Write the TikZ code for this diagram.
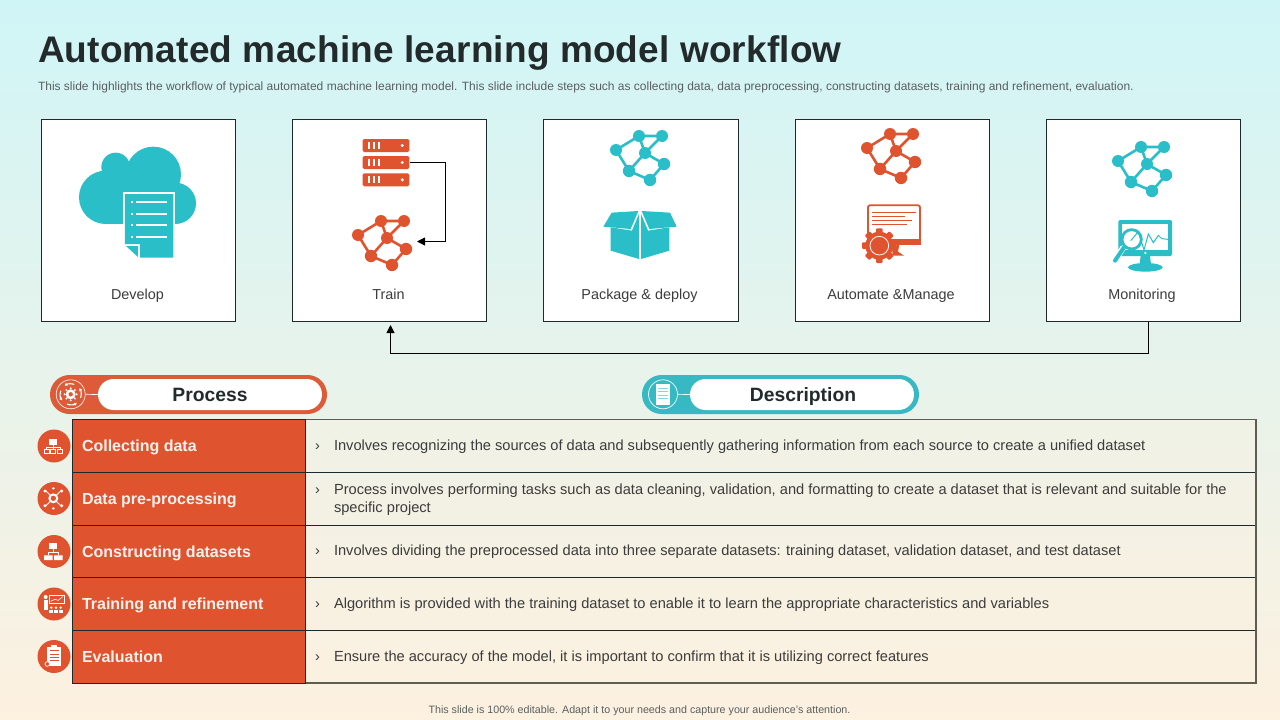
\documentclass[tikz,border=0pt]{standalone}
\usepackage{fontspec}
\setmainfont{Liberation Sans}
\usetikzlibrary{arrows.meta}
\definecolor{org}{HTML}{E0532F}
\definecolor{teal}{HTML}{29BEC8}
\definecolor{inkc}{HTML}{222A2C}
\definecolor{bodyc}{HTML}{3C3C3C}
\definecolor{subc}{HTML}{5A5F60}
\definecolor{linec}{HTML}{1E2A2A}
\definecolor{framec}{HTML}{5E5E50}
\definecolor{topbg}{HTML}{D0F5F7}
\definecolor{botbg}{HTML}{FDF1E0}
\definecolor{pillorg}{HTML}{DD5B38}
\definecolor{pillteal}{HTML}{36B9C3}
\tikzset{
  every node/.style={outer sep=0pt},
  card/.style={draw=linec,line width=0.9pt,fill=white,minimum width=193.5pt,minimum height=202pt,inner sep=0pt,anchor=north west},
  cardlabel/.style={font=\fontsize{14.4}{14.4}\selectfont,text=bodyc,inner sep=0pt,anchor=base},
  link/.style={draw=black,line width=1pt,-{Triangle[length=8pt,width=8pt]}},
  cellhead/.style={draw=linec,line width=0.9pt,fill=org,minimum width=233pt,inner sep=0pt,anchor=north west},
  cellbody/.style={draw=linec,line width=0.9pt,fill=botbg,fill opacity=0.3,minimum width=951pt,inner sep=0pt,anchor=north west},
  headtext/.style={font=\fontsize{16}{16}\selectfont\bfseries,text=white!92!org,inner sep=0pt,anchor=base west},
  desctext/.style={font=\fontsize{14.64}{18}\selectfont,text=bodyc,inner sep=0pt,anchor=base west,align=left},
  chev/.style={font=\fontsize{14.5}{18}\selectfont,text=bodyc,inner sep=0pt,anchor=base west},
  pilltext/.style={font=\fontsize{19.3}{20}\selectfont\bfseries,text=inkc,inner sep=0pt,anchor=base},
  zoomed/.style args={#1/#2}{shift={(#1,#2)},x=0.33333pt,y=-0.33333pt},
}
% network glyph, centred on its hub
\newcommand{\netglyph}[3]{%
  \begin{scope}[shift={(#1,#2)}]
    \draw[line width=2.6pt,#3] (-29,-3)--(-6,-17)--(17,-17)--(0,0)--(19,11)--(5,27)--(-16,18)--cycle;
    \draw[line width=2.6pt,#3] (-6,-17)--(0,0)--(-16,18);
    \fill[#3] (-29,-3) circle (6) (-6,-17) circle (6) (17,-17) circle (6) (0,0) circle (6)
      (19,11) circle (6.2) (-16,18) circle (6.2) (5,27) circle (6.2);
  \end{scope}}
\begin{document}
\begin{tikzpicture}[x=1pt,y=-1pt,line cap=butt]
\useasboundingbox (0,0) rectangle (1280,720);
\shade[top color=topbg,bottom color=botbg,middle color=topbg!50!botbg] (0,0) rectangle (1280,720);

% title
\node[font=\fontsize{37}{37}\selectfont\bfseries\addfontfeature{LetterSpace=0.45},text=inkc,inner sep=0pt,anchor=base west] (title) at (38,62.5) {Automated machine learning model workflow};
\node[font=\fontsize{12}{12}\selectfont,text=subc,inner sep=0pt,anchor=base west] (subtitle) at (38,90.5) {This slide highlights the workflow of typical automated machine learning model. This slide include steps such as collecting data, data preprocessing, constructing datasets, training and refinement, evaluation.};

% cards
\node[card] (c1) at (41.5,119.5) {};
\node[card] (c2) at (292.5,119.5) {};
\node[card,minimum width=194.5pt] (c3) at (543.5,119.5) {};
\node[card] (c4) at (795.5,119.5) {};
\node[card] (c5) at (1046.5,119.5) {};
\node[cardlabel] (l1) at (137.5,299) {Develop};
\node[cardlabel] (l2) at (388.5,299) {Train};
\node[cardlabel] (l3) at (639.5,299) {Package \& deploy};
\node[cardlabel] (l4) at (891,299) {Automate \&Manage};
\node[cardlabel] (l5) at (1142,299) {Monitoring};

% cloud + document
\begin{scope}[zoomed=30/110]
  \fill[teal] (227,262) circle (80) (257,171) circle (43) (370,193) circle (83) (436,280) circle (62);
  \fill[teal] (227,200) rectangle (436,342);
  \fill[white] (279,246) -- (436,246) -- (436,342) -- (279,342) -- cycle;
  \fill[white] (279,342) rectangle (285,402);
  \fill[white] (279,398) -- (300,398) -- (335,436) -- (335,446) -- (325,446) -- cycle;
  \fill[teal] (285,252) -- (430,252) -- (430,443) -- (330,443) -- (330,402) -- (285,402) -- cycle;
  \fill[teal] (288,408) -- (324,408) -- (324,441) -- cycle;
  \foreach \yy in {276,311,346,381}{
    \fill[white] (318,\yy-3) rectangle (411,\yy+3);
    \fill[white] (302,\yy-3) rectangle (308,\yy+3);
  }
\end{scope}

% server stack
\begin{scope}[zoomed=30/110]
  \foreach \yy in {87,138,190}{
    \fill[org,rounded corners=1.5pt] (998,\yy) rectangle (1138,\yy+39);
    \foreach \xx in {1015,1029,1043}{\fill[white] (\xx,\yy+9) rectangle (\xx+6,\yy+29);}
    \fill[white] (1117,\yy+19.5) circle (5);
  }
\end{scope}
\coordinate (srv) at (409.5,162);
\coordinate (trainnet) at (417,241.5);
\netglyph{387}{238}{org}
\draw[link] (srv) -| (445.5,241.5) -- (trainnet);

% package
\netglyph{645}{153}{teal}
\begin{scope}[zoomed=540/110]
  \fill[teal] (190,350) -- (215,308) -- (295,303) -- (272,357) -- cycle;
  \fill[teal] (305,303) -- (390,308) -- (410,350) -- (328,357) -- cycle;
  \fill[teal] (212,352) -- (276,362) -- (297,312) -- (297,447) -- (212,422) -- cycle;
  \fill[teal] (303,312) -- (324,362) -- (388,352) -- (388,422) -- (303,447) -- cycle;
\end{scope}

% automate
\netglyph{896}{151}{org}
\begin{scope}[zoomed=540/110]
  \draw[org,line width=1.8pt,fill=white,rounded corners=2pt] (984,286) rectangle (1140,402);
  \fill[org] (1000,388) rectangle (1143,404);
  \foreach \yy/\xe in {307/1128,320/1095,332/1115,344/1100}{\fill[org] (997,\yy-1.5) rectangle (\xe,\yy+1.5);}
  \fill[org] (1056,412) -- (1078,403) -- (1074,425) -- (1092,437) -- (1058,437) -- cycle;
  \fill[org] (1018,407) circle (42);
  \foreach \aa in {0,45,...,315}{\fill[org,rounded corners=1pt,rotate around={\aa:(1018,407)}] (1008,355) rectangle (1028,375);}
  \draw[white,line width=0.8pt] (1018,407) circle (28);
\end{scope}

% monitoring
\netglyph{1147}{164}{teal}
\begin{scope}[zoomed=1040/110]
  \fill[teal,rounded corners=1.5pt] (235,330) rectangle (396,438);
  \fill[white] (246,342) rectangle (385,420);
  \fill[white] (316,429) circle (3.5);
  \fill[teal] (302,438) -- (330,438) -- (333,462) -- (299,462) -- cycle;
  \fill[teal] (316,472) ellipse [x radius=52,y radius=13];
  \draw[white,line width=6pt] (250,412) -- (232,440);
  \draw[teal,line width=4pt,line cap=round] (252,412) -- (225,452);
  \draw[teal,line width=2.8pt,fill=white] (275,388) circle (29);
  \draw[teal,line width=1pt] (272,392) -- (295,365) -- (312,420) -- (325,372) -- (340,398) -- (355,376) -- (365,386) -- (384,388);
\end{scope}

% connector bottom
\coordinate (monout) at (1148.5,321.5);
\coordinate (trainin) at (390.5,325);
\draw[link] (monout) |- (trainin |- 0,353.5) -- (trainin);

% pills
\fill[pillorg,rounded corners=19.5pt] (50,375) rectangle (327,414);
\node[fill=white,rounded corners=15.5pt,minimum width=224pt,minimum height=31pt,inner sep=0pt] (phead) at (210,394.5) {};
\node[pilltext] (ptext) at (210,401) {Process};
\fill[pillteal,rounded corners=19.5pt] (642,375) rectangle (919,414);
\node[fill=white,rounded corners=15.5pt,minimum width=224pt,minimum height=31pt,inner sep=0pt] (dhead) at (802,394.5) {};
\node[pilltext] (dtext) at (803,401) {Description};
% process ring icon
\draw[white,line width=0.6pt] (70.7,394.3) circle (14.5);
\draw[white,line width=0.7pt] (85.2,394.3) -- (phead.west);
\begin{scope}[shift={(70.7,394.3)}]
  \foreach \aa in {20,110,200,290}{
    \draw[white,line width=1.1pt,-{Triangle[length=2.6pt,width=3pt]}] (\aa:10.5) arc[start angle=\aa,delta angle=-55,radius=10.5];
  }
  \foreach \aa in {0,45,...,315}{\fill[white] (\aa:6) circle (1.1);}
  \fill[white] (0,0) circle (5);
  \fill[pillorg] (0,0) circle (2.2);
\end{scope}
% description ring icon
\draw[white,line width=0.7pt] (663,394.3) circle (14.5);
\draw[white,line width=0.7pt] (677.5,394.3) -- (dhead.west);
\fill[white] (656,384) rectangle (670,405);
\foreach \yy in {388,391.5,395,398.5}{\draw[pillteal!60,line width=0.5pt] (658,\yy) -- (668,\yy);}

% table
\foreach \n/\yt/\h/\lab in {1/419.5/52.5/Collecting data,2/472/53/Data pre-processing,3/525/52.5/Constructing datasets,4/577.5/52.5/Training and refinement,5/630/53/Evaluation}{
  \node[cellbody,minimum height=\h pt] (b\n) at (305.5,\yt) {};
  \node[cellhead,minimum height=\h pt] (h\n) at (72.5,\yt) {};
  \node[headtext] (t\n) at (82,\yt+32) {\lab};
  \fill[org] (54,\yt+26.5) circle (16.5);
}
\draw[framec,line width=1.3pt] (305.5,419.5) -- (1256,419.5) -- (1256,683) -- (305.5,683);
\draw[linec,line width=1pt] (72.5,419.5) -- (305.5,419.5) (72.5,683) -- (305.5,683);
\node[chev] (m1) at (315,450.5) {›};
\node[chev] (m2) at (315,494.5) {›};
\node[chev] (m3) at (315,555.5) {›};
\node[chev] (m4) at (315,608.5) {›};
\node[chev] (m5) at (315,661.5) {›};
\node[desctext] (d1) at (334,450.5) {Involves recognizing the sources of data and subsequently gathering information from each source to create a unified dataset};
\node[desctext,anchor=north west] (d2) at (334,484) {Process involves performing tasks such as data cleaning, validation, and formatting to create a dataset that is relevant and suitable for the\\specific project};
\node[desctext] (d3) at (334,555.5) {Involves dividing the preprocessed data into three separate datasets: training dataset, validation dataset, and test dataset};
\node[desctext] (d4) at (334,608.5) {Algorithm is provided with the training dataset to enable it to learn the appropriate characteristics and variables};
\node[desctext] (d5) at (334,661.5) {Ensure the accuracy of the model, it is important to confirm that it is utilizing correct features};

% small icons
\begin{scope}[zoomed=30/365]
  % hierarchy
  \fill[white] (58,222) rectangle (82,240);
  \draw[white,line width=0.5pt] (70,240) -- (70,247) (50,252) -- (50,247) -- (90,247) -- (90,252) (70,247) -- (70,252);
  \foreach \xx in {42,62,82}{\draw[white,line width=0.8pt] (\xx,252) rectangle (\xx+15,266);}
  % gear arrows
  \draw[white,line width=0.9pt] (47,377) -- (93,423) (93,377) -- (47,423);
  \fill[white] (45,378) circle (5) (95,378) circle (5) (45,422) circle (5) (95,422) circle (5) (70,370) circle (4) (70,430) circle (4);
  \fill[white] (70,400) circle (15);
  \fill[org] (70,400) circle (8);
\end{scope}
\begin{scope}[zoomed=30/530]
  % network of screens
  \fill[white] (58,38) rectangle (82,58);
  \draw[white,line width=0.5pt] (70,58) -- (70,68) (55,76) -- (55,68) -- (85,68) -- (85,76);
  \fill[white] (42,76) rectangle (68,90) (72,76) rectangle (98,90);
  % presenter
  \fill[white] (47,201) circle (6);
  \fill[white] (41,209) rectangle (54,240);
  \draw[white,line width=0.6pt] (58,195) rectangle (102,219);
  \draw[white,line width=0.6pt] (62,214) -- (75,208) -- (85,211) -- (98,200);
  \foreach \xx in {64,78,92}{\fill[white] (\xx,233) circle (4); \fill[white] (\xx-6,240) rectangle (\xx+6,248);}
  % clipboard
  \fill[white] (52,350) rectangle (92,408);
  \fill[white] (62,344) rectangle (82,352);
  \foreach \yy in {362,372,382,392}{\draw[org,line width=0.6pt] (60,\yy) -- (87,\yy);}
  \draw[white,line width=0.7pt,fill=org] (52,402) circle (7);
\end{scope}

% footer
\node[font=\fontsize{10.7}{10.7}\selectfont,text=subc,inner sep=0pt,anchor=base] (footer) at (639.5,713) {This slide is 100\% editable. Adapt it to your needs and capture your audience's attention.};
\end{tikzpicture}
\end{document}
